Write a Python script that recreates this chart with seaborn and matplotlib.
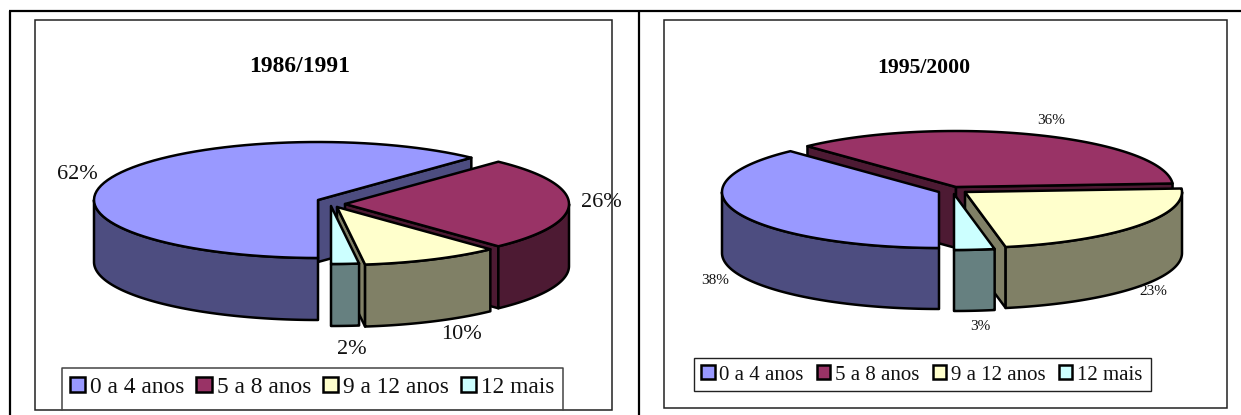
import numpy as np
import matplotlib
matplotlib.use("Agg")
import matplotlib.pyplot as plt
from matplotlib.patches import Polygon, Rectangle, Patch
import seaborn as sns

# Years of schooling, share of people by period
categories = ["0 a 4 anos", "5 a 8 anos", "9 a 12 anos", "12 mais"]
values_1986 = [62, 26, 10, 2]
values_1995 = [38, 36, 23, 3]
title_1986 = "1986/1991"
title_1995 = "1995/2000"

sns.set_theme(style="white")
plt.rcParams["font.family"] = ["Liberation Serif", "DejaVu Serif"]
palette = sns.color_palette(["#9999FF", "#993366", "#FFFFCC", "#CCFFFF"])
shade = [tuple(c * 0.5 for c in col) for col in palette]

LW = 1.8


def arc(cx, cy, a, b, t0, t1, n=80):
    t = np.radians(np.linspace(t0, t1, n))
    return np.column_stack([cx + a * np.cos(t), cy - b * np.sin(t)])


def draw_slice(ax, centre, a, b, depth, hi, lo, face, side):
    cx, cy = centre
    apex = np.array([cx, cy])
    down = np.array([0, depth])

    # Radial cut faces, only when they turn toward the viewer
    for ang, normal in ((hi, hi + 90), (lo, lo - 90)):
        if np.sin(np.radians(normal)) < -1e-6:
            rim = arc(cx, cy, a, b, ang, ang, 1)[0]
            ax.add_patch(Polygon([apex, rim, rim + down, apex + down], closed=True,
                                 fc=side, ec="black", lw=LW, joinstyle="round"))

    # Outer wall on the front half of the rim
    for r0, r1 in ((-180, 0), (180, 360)):
        t0, t1 = max(lo, r0), min(hi, r1)
        if t1 > t0:
            top = arc(cx, cy, a, b, t0, t1)
            ax.add_patch(Polygon(np.vstack([top, (top + down)[::-1]]), closed=True,
                                 fc=side, ec="black", lw=LW, joinstyle="round"))

    # Top face
    ax.add_patch(Polygon(np.vstack([apex, arc(cx, cy, a, b, lo, hi)]), closed=True,
                         fc=face, ec="black", lw=LW, joinstyle="round"))


def draw_pie(ax, values, centres, a, b, depth, order):
    share = np.asarray(values, dtype=float) / np.sum(values) * 360
    hi = 270 - np.concatenate([[0], np.cumsum(share)[:-1]])
    lo = hi - share
    for i in order:
        draw_slice(ax, centres[i], a, b, depth, hi[i], lo[i], palette[i], shade[i])


fig = plt.figure(figsize=(12.41, 4.15), dpi=100, facecolor="white")
ax = fig.add_axes([0, 0, 1, 1])
ax.set_xlim(0, 1241)
ax.set_ylim(415, 0)
ax.axis("off")

# Table rules around the two cells
ax.plot([9, 1241], [11, 11], color="black", lw=1.6, solid_capstyle="butt")
ax.plot([10, 10], [11, 415], color="black", lw=1.6, solid_capstyle="butt")
ax.plot([639, 639], [11, 415], color="black", lw=1.6, solid_capstyle="butt")

# Chart frames
ax.add_patch(Rectangle((35, 20), 577, 390, fc="white", ec="#222222", lw=1.1))
ax.add_patch(Rectangle((664, 20), 563, 388, fc="white", ec="#222222", lw=1.1))

# 1986/1991
draw_pie(ax, values_1986,
         [(318, 200), (345, 204), (337, 207), (331, 206)],
         224, 58, 62, [0, 1, 2, 3])
# 1995/2000
draw_pie(ax, values_1995,
         [(939, 192), (956, 187), (965, 192), (954, 194)],
         217, 56, 61, [1, 0, 2, 3])

ax.text(300, 66, title_1986, ha="center", va="center", fontsize=17, fontweight="bold", color="black")
ax.text(924, 68, title_1995, ha="center", va="center", fontsize=15.7, fontweight="bold", color="black")

for (x, y), v in zip([(77, 174), (601, 202), (461, 334), (352, 349)], values_1986):
    ax.text(x, y, f"{v}%", ha="center", va="center", fontsize=16, color="#111111")
for (x, y), v in zip([(715, 280), (1051, 120), (1153, 291), (980, 326)], values_1995):
    ax.text(x, y, f"{v}%", ha="center", va="center", fontsize=11, color="#111111")

# Legend boxes: the left one runs down into its chart frame
ax.plot([62, 62, 563, 563], [410, 368, 368, 410], color="#444444", lw=1.1)
ax.add_patch(Rectangle((694, 358), 456.5, 33, fc="white", ec="#222222", lw=1))


def add_legend(fontsize, x, y, colspace):
    handles = [Patch(fc=c, ec="black", lw=LW) for c in palette]
    leg = ax.legend(handles, categories, ncols=4, loc="center left",
                    bbox_to_anchor=(x, y), bbox_transform=ax.transData,
                    frameon=False, fontsize=fontsize, borderpad=0, borderaxespad=0,
                    handlelength=0.65, handleheight=0.65, handletextpad=0.22,
                    columnspacing=colspace, labelcolor="#111111")
    return leg


ax.add_artist(add_legend(16.8, 70, 387, 0.5))
add_legend(15, 701, 375, 0.64)

fig.savefig("out.png", dpi=100)
